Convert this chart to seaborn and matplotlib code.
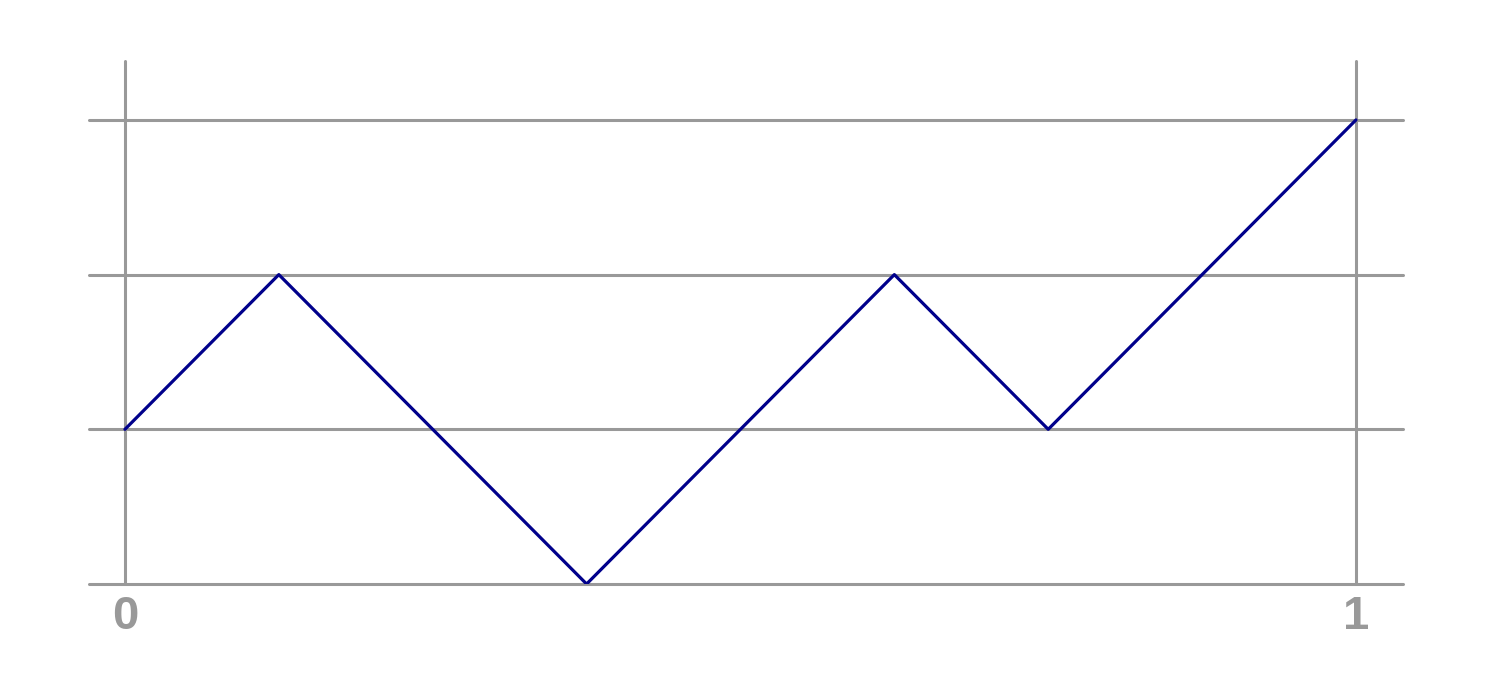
import pandas as pd
import matplotlib
matplotlib.use("Agg")
import matplotlib.pyplot as plt
import seaborn as sns

# Data (a +/-1 walk over 8 steps)
x_vals = [0, 0.125, 0.25, 0.375, 0.5, 0.625, 0.75, 0.875, 1.0]
y_vals = [1, 2, 1, 0, 1, 2, 1, 2, 3]
x_ticks = [0, 1]
x_labels = ['0', '1']
y_ticks = [0, 1, 2, 3]

df = pd.DataFrame({'x': x_vals, 'y': y_vals})

sns.set_style('white')
plt.rcParams['font.family'] = ['Liberation Sans', 'DejaVu Sans']

W, H = 1493, 695
fig = plt.figure(figsize=(W / 100, H / 100), dpi=100)
ax = fig.add_axes([89 / W, (H - 584) / H, (1403 - 89) / W, (584 - 61) / H])

sns.lineplot(data=df, x='x', y='y', color='#00008b', linewidth=2.3, ax=ax, zorder=3)

ax.set_xlim(-0.0292, 1.0382)
ax.set_ylim(0, 3.381)
ax.set_xticks(x_ticks)
ax.set_xticklabels(x_labels, fontsize=34, fontweight='bold', color='#999999')
ax.set_yticks(y_ticks)
ax.set_yticklabels([])
ax.tick_params(length=0, pad=8)
ax.grid(True, color='#999999', linewidth=2.2)
ax.set_axisbelow(True)
for gl in ax.get_ygridlines() + ax.get_xgridlines():
    gl.set_clip_on(False)
for s in ax.spines.values():
    s.set_visible(False)
ax.set_xlabel('')
ax.set_ylabel('')

fig.savefig('out.png', dpi=100)
